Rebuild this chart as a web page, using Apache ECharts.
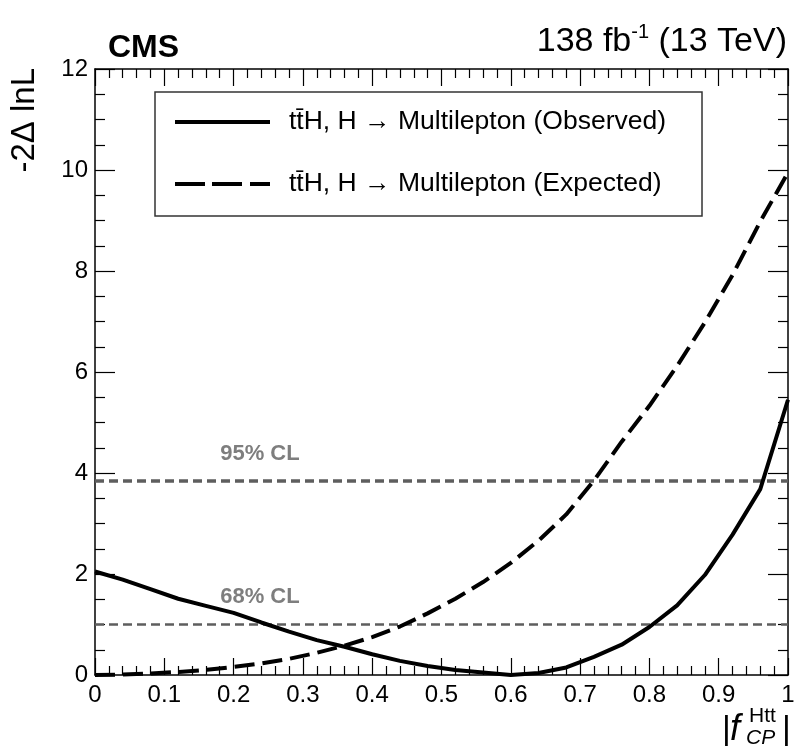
<!DOCTYPE html>
<html>
<head>
<meta charset="utf-8">
<script src="https://cdn.jsdelivr.net/npm/echarts@6/dist/echarts.min.js"></script>
<style>
  html, body { margin: 0; padding: 0; background: #fff; }
  #chart { width: 796px; height: 750px; }
</style>
</head>
<body>
<div id="chart"></div>
<script>
// Likelihood scan points in |f_CP^Htt|
const scanPoints = [0.00, 0.04, 0.08, 0.12, 0.16, 0.20, 0.24, 0.28, 0.32, 0.36, 0.40, 0.44, 0.48,
                    0.52, 0.56, 0.60, 0.64, 0.68, 0.72, 0.76, 0.80, 0.84, 0.88, 0.92, 0.96, 1.00];
// -2 Delta lnL, observed
const observed = [2.05, 1.89, 1.70, 1.51, 1.37, 1.23, 1.04, 0.86, 0.69, 0.56, 0.41, 0.28, 0.18,
                  0.10, 0.05, 0.00, 0.04, 0.15, 0.36, 0.60, 0.95, 1.38, 1.98, 2.78, 3.68, 5.45];
// -2 Delta lnL, expected
const expected = [0.00, 0.01, 0.03, 0.06, 0.10, 0.16, 0.23, 0.32, 0.44, 0.58, 0.75, 0.96, 1.22,
                  1.51, 1.84, 2.22, 2.66, 3.18, 3.85, 4.62, 5.33, 6.12, 6.98, 7.92, 8.98, 9.95];
// Confidence-level thresholds and their labels
const clLevels = [1.0, 3.84];
const clNames = ['68% CL', '95% CL'];
const clLabelX = 0.238;

const seriesNames = [
  'tt\u0304H, H \u2192 Multilepton (Observed)',
  'tt\u0304H, H \u2192 Multilepton (Expected)'
];

const FONT = '"Liberation Sans", Arial, Helvetica, sans-serif';
const CL_GREY = '#5e5e5e';

const zip = (xs, ys) => xs.map((x, i) => [x, ys[i]]);

const xAxisBase = {
  type: 'value', min: 0, max: 1, interval: 0.1,
  axisLine: { show: true, onZero: false, lineStyle: { color: '#000', width: 1.5 } },
  axisTick: { show: true, inside: true, length: 17, lineStyle: { color: '#000', width: 1.2 } },
  minorTick: { show: true, splitNumber: 5, length: 9, lineStyle: { color: '#000', width: 1.2 } },
  splitLine: { show: false }
};
const yAxisBase = {
  type: 'value', min: 0, max: 12, interval: 2,
  axisLine: { show: true, onZero: false, lineStyle: { color: '#000', width: 1.5 } },
  axisTick: { show: true, inside: true, length: 20, lineStyle: { color: '#000', width: 1.2 } },
  minorTick: { show: true, splitNumber: 4, length: 10, lineStyle: { color: '#000', width: 1.2 } },
  splitLine: { show: false }
};

const clLines = clLevels.map((v, i) => ({
  type: 'line',
  name: clNames[i],
  data: [[0, v], [1, v]],
  symbol: 'none',
  silent: true,
  z: 1,
  lineStyle: { color: CL_GREY, width: i === 1 ? 3.5 : 2.5, type: [9, 5] }
}));

const clText = {
  type: 'scatter',
  data: clLevels.map((v, i) => ({ value: [clLabelX, v], name: clNames[i] })),
  symbolSize: 1,
  itemStyle: { color: 'rgba(0,0,0,0)' },
  silent: true,
  label: {
    show: true, position: 'top', distance: 16,
    formatter: p => p.name,
    color: CL_GREY, fontSize: 22, fontWeight: 'bold', fontFamily: FONT
  }
};

// legend keys: a thick solid bar and a thick dashed bar
const solidKey = 'path://M0,0H95V4H0Z';
const dashedKey = 'path://M0,0H30V4H0Z M37,0H67V4H37Z M75,0H95V4H75Z';

const chart = echarts.init(document.getElementById('chart'), null, { renderer: 'canvas' });

chart.setOption({
  backgroundColor: '#fff',
  animation: false,
  grid: { left: 95, right: 8, top: 69, bottom: 75, outerBoundsMode: 'none' },
  xAxis: [
    Object.assign({}, xAxisBase, {
      position: 'bottom',
      axisLabel: { show: true, margin: 8, color: '#000', fontSize: 24, fontFamily: FONT }
    }),
    Object.assign({}, xAxisBase, { position: 'top', axisLabel: { show: false } })
  ],
  yAxis: [
    Object.assign({}, yAxisBase, {
      position: 'left',
      axisLabel: { show: true, margin: 7, color: '#000', fontSize: 24, fontFamily: FONT }
    }),
    Object.assign({}, yAxisBase, { position: 'right', axisLabel: { show: false } })
  ],
  legend: {
    data: [
      { name: seriesNames[0], icon: solidKey },
      { name: seriesNames[1], icon: dashedKey }
    ],
    orient: 'vertical',
    left: 155, top: 92,
    itemWidth: 95, itemHeight: 4, itemGap: 32,
    padding: [15, 36, 17, 20],
    borderColor: '#333', borderWidth: 1.5, borderRadius: 0,
    backgroundColor: '#fff',
    selectedMode: false,
    itemStyle: { color: '#000', borderWidth: 0 },
    textStyle: { color: '#000', fontSize: 26.5, fontFamily: FONT, lineHeight: 30, padding: [0, 0, 0, 14] }
  },
  series: [
    ...clLines,
    clText,
    {
      type: 'line', name: seriesNames[0],
      data: zip(scanPoints, observed),
      symbol: 'none', z: 3,
      lineStyle: { color: '#000', width: 4 },
      itemStyle: { color: '#000' }
    },
    {
      type: 'line', name: seriesNames[1],
      data: zip(scanPoints, expected),
      symbol: 'none', z: 3,
      lineStyle: { color: '#000', width: 4, type: [20, 8] },
      itemStyle: { color: '#000' }
    }
  ],
  graphic: [
    {
      type: 'text', left: 108, top: 32,
      style: { text: 'CMS', fontSize: 32, fontWeight: 'bold', fontFamily: FONT, fill: '#000' }
    },
    {
      type: 'text', right: 9, top: 22,
      style: {
        text: '{n|138 fb}{s|-1}{n| (13 TeV)}',
        rich: {
          n: { fontSize: 34, fontFamily: FONT, fill: '#000', lineHeight: 40 },
          s: { fontSize: 20, fontFamily: FONT, fill: '#000', verticalAlign: 'top', lineHeight: 20 }
        }
      }
    },
    {
      type: 'text', x: 25, y: 68, rotation: Math.PI / 2,
      style: {
        text: '-2\u0394 lnL', fontSize: 33, fontFamily: FONT, fill: '#000',
        align: 'right', verticalAlign: 'middle'
      }
    },
    {
      type: 'text', x: 722, y: 730,
      style: { text: '|', fontSize: 34, fontFamily: FONT, fill: '#000', verticalAlign: 'middle' }
    },
    {
      type: 'text', x: 730, y: 730,
      style: { text: 'f', fontSize: 36, fontStyle: 'italic', fontFamily: FONT, fill: '#000', verticalAlign: 'middle' }
    },
    {
      type: 'text', x: 749, y: 716,
      style: { text: 'Htt', fontSize: 21, fontFamily: FONT, fill: '#000', verticalAlign: 'middle' }
    },
    {
      type: 'text', x: 746, y: 738,
      style: { text: 'CP', fontSize: 21, fontStyle: 'italic', fontFamily: FONT, fill: '#000', verticalAlign: 'middle' }
    },
    {
      type: 'text', x: 782, y: 730,
      style: { text: '|', fontSize: 34, fontFamily: FONT, fill: '#000', verticalAlign: 'middle' }
    }
  ]
});
</script>
</body>
</html>
